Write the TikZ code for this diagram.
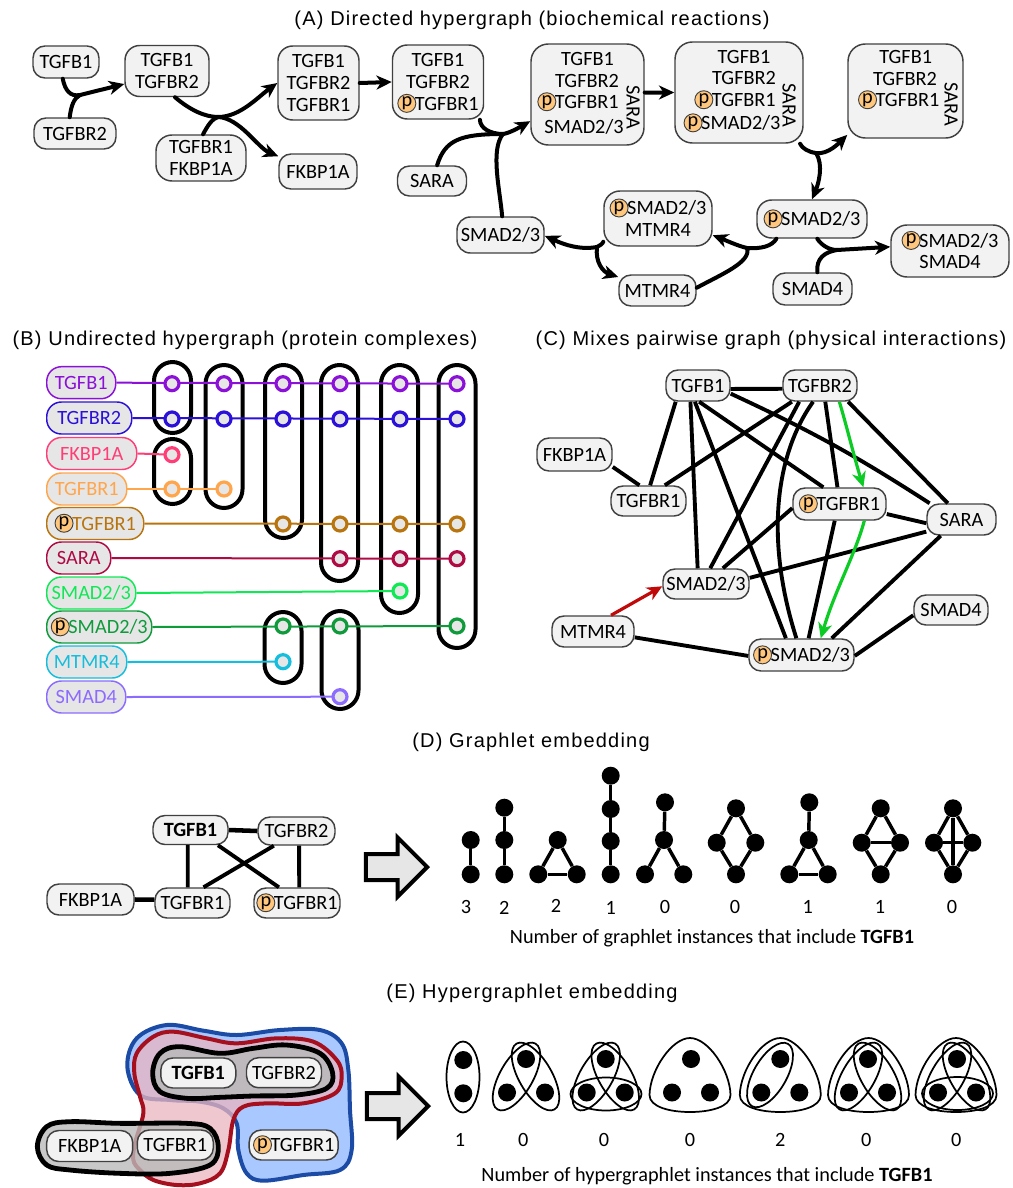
\documentclass[tikz,border=0pt]{standalone}
\usepackage{fontspec}
\setmainfont{Carlito}
\newfontfamily\titlefont[LetterSpace=6]{Liberation Sans}
\usetikzlibrary{arrows.meta,shapes.geometric,shapes.arrows}
\definecolor{boxgray}{HTML}{404040}
\definecolor{boxfill}{HTML}{F2F2F2}
\definecolor{wirefill}{HTML}{E6E6E6}
\definecolor{pfill}{HTML}{FFC77D}
\definecolor{bpurple}{HTML}{8B10D8}
\definecolor{bblue}{HTML}{2A10D8}
\definecolor{bpink}{HTML}{FF3D77}
\definecolor{borange}{HTML}{FFA64D}
\definecolor{bbrown}{HTML}{B8750F}
\definecolor{bwine}{HTML}{B00A45}
\definecolor{blime}{HTML}{10E855}
\definecolor{bgreen}{HTML}{0F9B3C}
\definecolor{bcyan}{HTML}{14BEDC}
\definecolor{bviolet}{HTML}{8C6BFF}
\definecolor{greenarrow}{HTML}{0CCB24}
\definecolor{redarrow}{HTML}{C00A0A}
\definecolor{hullblue}{HTML}{1B4BA5}
\definecolor{hullbluefill}{HTML}{A9C8FF}
\definecolor{hullred}{HTML}{A50F1E}
\definecolor{hullredfill}{HTML}{EAB5BF}
\newcommand{\lblfont}{\fontsize{15.2}{16.2}\selectfont}
\newcommand{\pmark}{\smash{\raisebox{2.6pt}{\tikz[baseline=(pc.base)]\node[phos](pc){p};}}\hspace{-1pt}}
\tikzset{
    %Define standard arrow tip
    >={Stealth[length=11.5pt,width=10.5pt,inset=3.5pt]},
    %Define style for boxes
    protein/.style 2 args={
           rectangle,
           rounded corners=9pt,
           draw=boxgray, line width=1.1pt,
           fill=boxfill,
           inner sep=0pt,
           align=center,
           minimum width=#1*.75pt,
           minimum height=#2*.75pt,
           font=\lblfont,
           },
    phos/.style={
           circle,
           draw=boxgray, line width=.7pt,
           fill=pfill,
           text=black,
           inner sep=0pt,
           minimum size=13.5pt,
           font=\lblfont,
           },
    txt/.style={font=\lblfont, inner sep=0pt},
    title/.style={font=\titlefont\fontsize{15}{18}\selectfont, inner sep=0pt},
    % Define arrow style
    reac/.style={line width=3pt, line cap=round},
    link/.style={line width=2.9pt},
    bluntbox/.style={rounded corners=14pt, draw=black, line width=3pt},
    wire/.style={line width=1.5pt},
    member/.style={circle, line width=2.4pt, fill=wirefill, inner sep=0pt, minimum size=10.5pt},
    gdot/.style={circle, fill=black, inner sep=0pt, minimum size=13.5pt},
    hull/.style 2 args={ellipse, draw=black, line width=1.3pt, inner sep=0pt,
           minimum width=#1*.75pt, minimum height=#2*.75pt},
    bigarrow/.style={single arrow, draw=black, line width=3pt, fill=wirefill,
           inner xsep=0pt, inner ysep=8.25pt,
           anchor=tip, minimum height=46pt, minimum width=42pt, single arrow head extend=12.5pt},
}
\newcommand{\trishape}{(0,-37) .. controls (18,-37) and (40,-5) .. (40.5,20) .. controls (40.5,32) and (20,37) .. (0,37) .. controls (-20,37) and (-40.5,32) .. (-40.5,20) .. controls (-40,-5) and (-18,-37) .. cycle}
\begin{document}
\begin{tikzpicture}[x=.75pt,y=-.75pt]
\useasboundingbox (0,0) rectangle (1013,1188);
\node[title](t1) at (532,20){(A) Directed hypergraph (biochemical reactions)};
\node[title](t2) at (245,340){(B) Undirected hypergraph (protein complexes)};
\node[title](t3) at (771,340){(C) Mixes pairwise graph (physical interactions)};
\node[title](t4) at (531,742){(D) Graphlet embedding};
\node[title](t5) at (532,993){(E) Hypergraphlet embedding};

% panel A
\node[protein={66}{32}](a1) at (66,62){TGFB1};
\node[protein={82}{31}](a2) at (75,133.5){TGFBR2};
\node[protein={84}{51},rounded corners=11pt](a3) at (167,71){TGFB1\\TGFBR2};
\node[protein={90}{46},rounded corners=12pt](a4) at (201,158){TGFBR1\\FKBP1A};
\node[protein={81}{74},rounded corners=11pt](a5) at (318.5,83){TGFB1\\TGFBR2\\TGFBR1};
\node[protein={78}{35}](a6) at (318,171.5){FKBP1A};
\node[protein={91}{74},rounded corners=11pt](a7) at (438,82){TGFB1\\TGFBR2\\\pmark TGFBR1};
\node[protein={69}{30}](a8) at (432,181){SARA};
\node[protein={87}{36},rounded corners=10pt](a9) at (500.5,235){SMAD2/3};
\node[protein={113}{101},rounded corners=13pt](a10) at (587.5,94.5){};
\node[protein={128}{101},rounded corners=13pt](a11) at (739,92.5){};
\node[protein={115}{94},rounded corners=13pt](a12) at (905.5,91){};
\node[protein={108}{55},rounded corners=12pt](a13) at (658,218.5){\pmark SMAD2/3\\MTMR4};
\node[protein={110}{38},rounded corners=11pt](a14) at (812,219){\pmark SMAD2/3};
\node[protein={77}{31}](a15) at (657.5,290.5){MTMR4};
\node[protein={79}{32}](a16) at (812.5,289){SMAD4};
\node[protein={118}{52},rounded corners=12pt](a17) at (950,251){\pmark SMAD2/3\\SMAD4};
\foreach \i/\xx/\yy/\lbl in {
    10a/587.5/59/TGFB1, 10b/587/81/TGFBR2, 10c/578/102/\pmark TGFBR1, 10d/584/127/{SMAD2/3},
    11a/744/57/TGFB1, 11b/744/78/TGFBR2, 11c/735/100/\pmark TGFBR1, 11d/732/123/\pmark {SMAD2/3},
    12a/905.7/57/TGFB1, 12b/905/79/TGFBR2, 12c/898.7/100/\pmark TGFBR1}
    \node[txt](al\i) at (\xx,\yy){\lbl};
\foreach \i/\xx/\yy in {10/633/107, 11/789/105, 12/951/104}
    \node[txt,rotate=-90](as\i) at (\xx,\yy){SARA};

\coordinate (j1) at (80,95);
\coordinate (j2) at (218,117);
\coordinate (j4) at (503,134);
\coordinate (j6) at (816,153);
\coordinate (j7) at (747,248);
\coordinate (j8) at (597,247);
\coordinate (j9) at (837,250);
\draw[reac] (a1.259) .. controls (65,90) and (70,97) .. (j1);
\draw[reac] (a2.108) .. controls (71,106) and (74,98) .. (j1);
\draw[reac,->] (j1) -- (a3.197);
\draw[reac] (a3.287) .. controls (190,110) and (205,117) .. (j2);
\draw[reac] (a4.85) .. controls (208,125) and (212,119) .. (j2);
\draw[reac,->] (j2) .. controls (240,117) and (258,97) .. (a5.west);
\draw[reac,->] (j2) .. controls (240,118) and (258,148) .. (a6.159);
\draw[reac,->] (a5.east) -- (a7.west);
\draw[reac] (a7.318) .. controls (480,128) and (490,134) .. (j4);
\draw[reac] (a8.72) .. controls (445,140) and (460,134) .. (j4);
\draw[reac] (a9.85) .. controls (500,190) and (490,150) .. (j4);
\draw[reac,->] (j4) .. controls (510,133) and (520,127) .. (a10.205);
\draw[reac,->] (a10.2) -- (a11.west);
\draw[reac] (a11.320) .. controls (802,148) and (808,152) .. (j6);
\draw[reac,->] (j6) .. controls (828,155) and (840,142) .. (a12.217);
\draw[reac,->] (j6) .. controls (824,165) and (818,185) .. (a14.90);
\draw[reac] (a14.209) .. controls (772,246) and (762,249) .. (j7);
\draw[reac] (a15.4) .. controls (720,275) and (752,262) .. (j7);
\draw[reac,->] (j7) .. controls (738,246) and (725,240) .. (a13.343);
\draw[reac] (a13.203) .. controls (603,243) and (600,246) .. (j8);
\draw[reac,->] (j8) .. controls (580,250) and (565,245) .. (a9.359);
\draw[reac,->] (j8) .. controls (595,262) and (603,272) .. (a15.161);
\draw[reac] (a14.285) .. controls (822,246) and (830,250) .. (j9);
\draw[reac] (a16.74) .. controls (816,258) and (825,252) .. (j9);
\draw[reac,->] (j9) -- (a17.176);

% panel B
\foreach \xx/\ya/\yb in {172.5/362/433, 172.5/439/504, 224/365/508, 283.5/365/538,
    339.5/365/581, 399.5/365/613, 457/365/648, 283/612/683, 340/611/709}
    \draw[bluntbox] (\xx-18.5,\ya) rectangle (\xx+18.5,\yb);
\foreach \nm/\lbl/\bw/\ly/\cy/\cc/\cols/\lastcol in {
    1/TGFB1/69/382.7/383.7/bpurple/{172,224,283,340,400,457}/457,
    2/TGFBR2/85/418/419/bblue/{172,224,283,340,400,457}/457,
    3/FKBP1A/90/453.5/454.7/bpink/{172}/172,
    4/TGFBR1/80/489/489/borange/{172,224}/224,
    5/\pmark TGFBR1/97/523.5/524/bbrown/{283,340,400,457}/457,
    6/SARA/64/558/558.7/bwine/{340,400,457}/457,
    7/{SMAD2/3}/89/593/591/blime/{400}/400,
    8/\pmark {SMAD2/3}/105/627/626/bgreen/{283,340,457}/457,
    9/MTMR4/80/662/661.7/bcyan/{283}/283,
    10/SMAD4/79/697/696.7/bviolet/{340}/340}
{
    \node[protein={\bw}{32},rounded corners=11pt,draw=\cc,fill=wirefill,text=\cc,anchor=west](b\nm) at (46,\ly){\lbl};
    \coordinate (w\nm) at (\lastcol,\cy);
    \draw[wire,draw=\cc] (b\nm.east) -- (w\nm);
    \foreach \xx in \cols
        \node[member,draw=\cc](c\nm-\xx) at (\xx,\cy){};
}

% panel C
\node[protein={64}{31}](1) at (698,385.5){TGFB1};
\node[protein={74}{31}](2) at (820,385.5){TGFBR2};
\node[protein={75}{33}](3) at (574.5,454.5){FKBP1A};
\node[protein={75}{30}](4) at (648.5,501){TGFBR1};
\node[protein={93}{32}](5) at (839.5,504){\pmark TGFBR1};
\node[protein={69}{31}](6) at (961.5,519.5){SARA};
\node[protein={86}{30}](7) at (706,584){SMAD2/3};
\node[protein={74}{30}](8) at (951,610){SMAD4};
\node[protein={82}{31}](9) at (593,631.5){MTMR4};
\node[protein={105}{32}](10) at (801.5,655){\pmark SMAD2/3};
\path[link]
    (1.354) edge (2.185)
    (1.216) edge (4.84)
    (1.245) edge (7.118)
    (1.259) edge (10.133)
    (1.274) edge (5.134)
    (1.346) edge[bend left=4] (6.153)
    (2.210) edge (4.44)
    (2.218) edge (7.75)
    (2.288) edge (5.97)
    (2.330) edge (6.130)
    (3.342) edge (4.120)
    (5.185) edge (7.43)
    (5.348) edge (6.186)
    (5.254) edge (10.67)
    (7.8) edge (6.199)
    (6.218) edge (10.29)
    (8.188) edge (10.359)
    (9.352) edge (10.181);
\draw[link] (2.247) .. controls (775,455) and (765,540) .. (10.107);
\draw[line width=2.4pt,greenarrow,->] (2.320) .. controls (845,420) and (855,460) .. (5.35);
\draw[line width=2.4pt,greenarrow,->] (5.326) .. controls (855,555) and (835,590) .. (10.41);
\draw[line width=2.4pt,redarrow,->] (9.42) -- (7.183);

% panel D
\node[protein={75}{29},font=\lblfont\bfseries](d1) at (190.5,830){TGFB1};
\node[protein={77}{28}](d2) at (296.5,831){TGFBR2};
\node[protein={87}{31}](d3) at (90.5,899.5){FKBP1A};
\node[protein={75}{30}](d4) at (192.5,903){TGFBR1};
\node[protein={86}{30}](d5) at (297,903){\pmark TGFBR1};
\path[link]
    (d1.260) edge (d4.107)
    (d1.331) edge (d5.139)
    (d2.213) edge (d4.55)
    (d2.280) edge (d5.82);
\path[line width=3.4pt]
    (d1.east) edge (d2.west)
    (d3.east) edge (d4.175);
\node[bigarrow](arrD) at (430,867){};
\foreach \nm/\xx/\yy in {
    g1a/470.7/840, g1b/470.7/874.3,
    g2a/504.3/807.7, g2b/504.3/840, g2c/504.3/874.3,
    g3a/557.7/840, g3b/538.3/874.3, g3c/576.7/874.3,
    g4a/610.7/775.7, g4b/610.7/809, g4c/610.7/841, g4d/610.7/874.3,
    g5a/665/802.3, g5b/664/840, g5c/645/874.3, g5d/683.3/874.3,
    g6a/736/808.3, g6b/716.7/842.7, g6c/755.3/842.7, g6d/736/874.3,
    g7a/809.3/802.3, g7b/808.7/840, g7c/789.3/874.3, g7d/827.7/874.3,
    g8a/880.7/808.3, g8b/861.7/842.7, g8c/900/842.7, g8d/880.7/874.3,
    g9a/953/808.3, g9b/934/842.7, g9c/972.3/842.7, g9d/953/874.3}
    \node[gdot](\nm) at (\xx,\yy){};
\foreach \ga/\gb in {g1a/g1b, g2a/g2b, g2b/g2c, g3a/g3b, g3a/g3c, g3b/g3c,
    g4a/g4b, g4b/g4c, g4c/g4d, g5a/g5b, g5b/g5c, g5b/g5d,
    g6a/g6b, g6a/g6c, g6b/g6d, g6c/g6d, g7a/g7b, g7b/g7c, g7b/g7d, g7c/g7d,
    g8a/g8b, g8a/g8c, g8b/g8c, g8b/g8d, g8c/g8d,
    g9a/g9b, g9a/g9c, g9a/g9d, g9b/g9c, g9b/g9d, g9c/g9d}
    \draw[line width=2.6pt] (\ga) -- (\gb);
\foreach \i/\xx/\yy/\val in {1/466/906.7/3, 2/504.3/908/2, 3/556/906/2, 4/610.7/908/1, 5/665/907/0,
    6/735/907/0, 7/807.7/907/1, 8/880/907/1, 9/952/907/0}
    \node[txt](dn\i) at (\xx,\yy){\val};
\node[txt](dcap) at (712,938.5){Number of graphlet instances that include \textbf{TGFB1}};

% panel E
\begin{scope}[shift={(20,1010)},x=.25pt,y=-.25pt]
\draw[line width=3pt,draw=hullblue,fill=hullbluefill] plot[smooth cycle,tension=.6] coordinates {
    (322,170) (350,85) (440,45) (550,62) (650,75) (780,60) (900,60) (965,100) (985,180)
    (990,300) (995,420) (960,480) (850,495) (730,512) (680,490) (655,420) (650,340)
    (610,295) (540,275) (450,270) (360,255)};
\draw[line width=3pt,draw=hullred,fill=hullredfill,fill opacity=.75] plot[smooth cycle,tension=.6] coordinates {
    (343,190) (350,130) (400,80) (460,65) (560,85) (650,100) (770,85) (880,95) (950,150)
    (965,200) (945,250) (850,280) (740,280) (670,290) (640,330) (625,420) (600,490)
    (540,520) (470,525) (400,510) (360,480) (340,450) (345,400) (370,310) (360,260)};
\draw[line width=3.6pt,fill=black!27,fill opacity=.9] plot[smooth cycle,tension=.6] coordinates {
    (398,190) (420,130) (480,110) (600,130) (700,115) (800,105) (900,130) (938,190)
    (920,235) (830,255) (700,258) (600,262) (500,265) (420,245)};
\draw[line width=3.6pt,fill=black!27,fill opacity=.8] plot[smooth cycle,tension=.6] coordinates {
    (52,410) (80,350) (150,335) (300,340) (500,340) (570,355) (595,410) (570,465)
    (450,490) (300,490) (150,480) (80,465)};
\end{scope}
\node[protein={75}{30},font=\lblfont\bfseries](e1) at (198.3,1073){TGFB1};
\node[protein={75}{30}](e2) at (284,1072.7){TGFBR2};
\node[protein={86}{31}](e3) at (89.7,1146){FKBP1A};
\node[protein={76}{30}](e4) at (175.3,1145){TGFBR1};
\node[protein={89}{30}](e5) at (293.7,1145){\pmark TGFBR1};
\node[bigarrow](arrE) at (431,1106){};

\node[gdot](h1a) at (463.3,1060){};
\node[gdot](h1b) at (463.3,1093.3){};
\node[hull={33}{71}](h1e) at (463,1077){};
\foreach \nm/\xx in {2/526, 3/605.7, 4/691, 5/780.3, 6/868, 7/957}
{
    \node[gdot](h\nm a) at (\xx,1059){};
    \node[gdot](h\nm b) at (\xx-19,1092.5){};
    \node[gdot](h\nm c) at (\xx+19,1092.5){};
}
\foreach \nm/\xx in {4/690, 5/780.3, 6/868.5, 7/956}
    \draw[line width=1.3pt,shift={(\xx,1075)}] \trishape;
\foreach \nm/\xx in {2/526, 3/605.7, 6/868, 7/957}
{
    \node[hull={76}{33},rotate=60](h\nm l) at (\xx-9.5,1076.5){};
    \node[hull={76}{33},rotate=-60](h\nm r) at (\xx+9.5,1076.5){};
}
\node[hull={72}{33},rotate=60](h5l) at (770,1075){};
\node[hull={71}{33}](h3h) at (606,1094){};
\node[hull={71}{33}](h7h) at (957.5,1093.5){};
\foreach \i/\xx/\val in {1/460/1, 2/523.3/0, 3/604/0, 4/690/0, 5/780.3/2, 6/866.3/0, 7/956.3/0}
    \node[txt](en\i) at (\xx,1140){\val};
\node[txt](ecap) at (707,1176.5){Number of hypergraphlet instances that include \textbf{TGFB1}};
\end{tikzpicture}
\end{document}
